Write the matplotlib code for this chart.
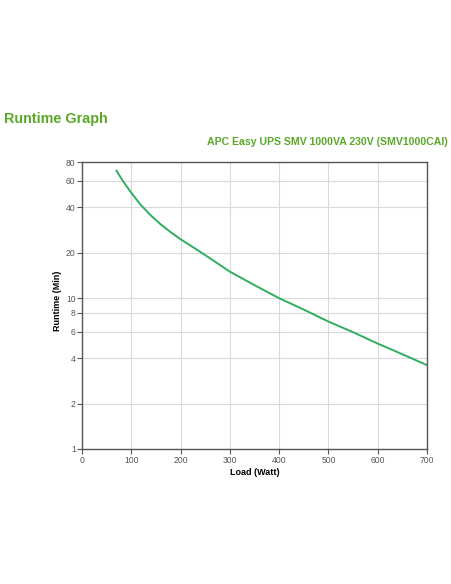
import matplotlib
matplotlib.use("Agg")
import matplotlib.pyplot as plt
from matplotlib.ticker import FixedLocator, NullLocator

plt.rcParams['font.family'] = ['Liberation Sans', 'DejaVu Sans']

load_watt = [70, 80, 90, 100, 118, 138, 158, 180, 200, 229, 250, 300, 350, 400, 450, 500, 550, 600, 650, 700]
runtime_min = [70, 62, 55.5, 50, 42, 35.8, 31.2, 27.4, 24.6, 21.4, 19.3, 15, 12.2, 10.0, 8.4, 7.0, 5.95, 5.0, 4.25, 3.6]

x_ticks = [0, 100, 200, 300, 400, 500, 600, 700]
y_ticks = [1, 2, 4, 6, 8, 10, 20, 40, 60, 80]
y_tick_labels = ["1", "2", "4", "6", "8", "10", "20", "40", "60", "80"]

title = "Runtime Graph"
subtitle = "APC Easy UPS SMV 1000VA 230V (SMV1000CAI)"
xlabel = "Load (Watt)"
ylabel = "Runtime (Min)"

green = "#5ba829"
line_green = "#2fae62"

fig = plt.figure(figsize=(4.52, 5.84), dpi=100)
ax = fig.add_axes([82/452, 1-449/584, (427-82)/452, (449-162)/584])

ax.plot(load_watt, runtime_min, color=line_green, lw=1.4)
ax.set_yscale('log')
ax.set_xlim(0, 700)
ax.set_ylim(1, 80)
ax.xaxis.set_major_locator(FixedLocator(x_ticks))
ax.yaxis.set_major_locator(FixedLocator(y_ticks))
ax.yaxis.set_minor_locator(NullLocator())
ax.set_yticklabels(y_tick_labels)
ax.set_xticklabels([str(v) for v in x_ticks])
ax.grid(True, color="#dadada", lw=0.8)
ax.set_axisbelow(True)
for s in ax.spines.values():
    s.set_color("#555555")
    s.set_linewidth(1.0)
ax.tick_params(axis='both', labelsize=6.2, colors="#555555", length=3.5, width=0.8, pad=1.5)
ax.tick_params(axis='y', pad=1)
ax.set_xlabel(xlabel, fontsize=6.5, fontweight='bold')
ax.set_ylabel(ylabel, fontsize=6.5, fontweight='bold')
ax.yaxis.set_label_coords((62.5 - 82) / 345, (449 - 301) / 287)
ax.xaxis.set_label_coords(0.5, -(468 - 449) / 287)

fig.text(4/452, 1-119/584, title, fontsize=10.4, fontweight='bold', color=green, va='center', ha='left')
fig.text(448/452, 1-142/584, subtitle, fontsize=7.6, fontweight='bold', color=green, va='center', ha='right')

fig.savefig("out.png", dpi=100)
